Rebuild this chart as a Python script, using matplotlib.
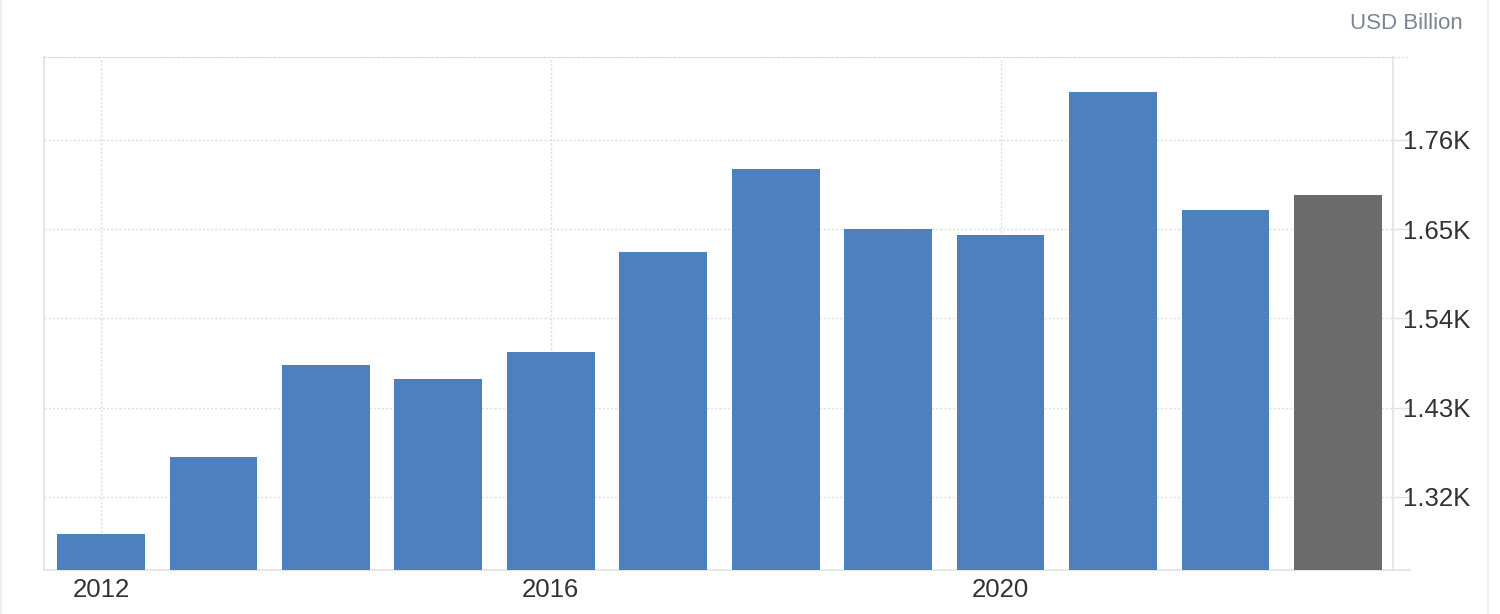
import matplotlib.pyplot as plt
from matplotlib.lines import Line2D

plt.rcParams['font.family'] = ['Liberation Sans', 'DejaVu Sans']

# dados (USD Billion)
anos = [2012, 2013, 2014, 2015, 2016, 2017, 2018, 2019, 2020, 2021, 2022, 2023]
valores = [1274, 1369, 1483, 1465, 1498, 1622, 1724, 1650, 1643, 1819, 1673, 1692]
cores = ['#4d80bc'] * 11 + ['#6b6b6b']

yticks = [1320, 1430, 1540, 1650, 1760]
ylabels = ['1.32K', '1.43K', '1.54K', '1.65K', '1.76K']
xticks_anos = [2012, 2016, 2020]

fig = plt.figure(figsize=(15, 6.14), dpi=100)
ax = fig.add_axes([0.0293, 0.0717, 0.8994, 0.8355])

pos = list(range(len(anos)))
ax.bar(pos, valores, width=0.78, color=cores, zorder=3)

ax.set_xlim(-0.507, len(anos) - 1 + 0.49)
ax.set_ylim(1230, 1862)

# eixo y do lado direito
ax.yaxis.tick_right()
ax.set_yticks(yticks)
ax.set_yticklabels(ylabels)
ax.tick_params(axis='y', length=12, width=1, color='#e3e3e3', pad=-5,
               labelsize=18.5, labelcolor='#333333')

xt = [anos.index(a) for a in xticks_anos]
ax.set_xticks(xt)
ax.set_xticklabels([str(a) for a in xticks_anos])
ax.tick_params(axis='x', length=0, pad=6, labelsize=18.5, labelcolor='#333333')

ax.grid(True, linestyle=(0, (1.5, 1.5)), color='#dedede', linewidth=1, zorder=0)

for lado in ['left', 'right', 'bottom']:
    ax.spines[lado].set_color('#e3e3e3')
    ax.spines[lado].set_linewidth(1.2)
ax.spines['top'].set_color('#dedede')
ax.spines['top'].set_linestyle((0, (1.5, 1.5)))
ax.spines['top'].set_linewidth(1)

# prolongamento da borda superior e inferior ate os rotulos
fig.add_artist(Line2D([0.9287, 0.94], [0.9072, 0.9072], color='#dedede',
                      linestyle=(0, (1.5, 1.5)), linewidth=1))
fig.add_artist(Line2D([0.9287, 0.94], [0.0717, 0.0717], color='#e3e3e3', linewidth=1.2))

# bordas claras da figura
fig.add_artist(Line2D([0.0007, 0.0007], [0, 1], color='#f0f0f0', linewidth=1.5))
fig.add_artist(Line2D([0.992, 0.992], [0, 1], color='#f0f0f0', linewidth=1.5))

fig.text(0.975, 0.961, 'USD Billion', ha='right', va='center', fontsize=16, color='#7d8592')

fig.savefig('out.png', dpi=100)
